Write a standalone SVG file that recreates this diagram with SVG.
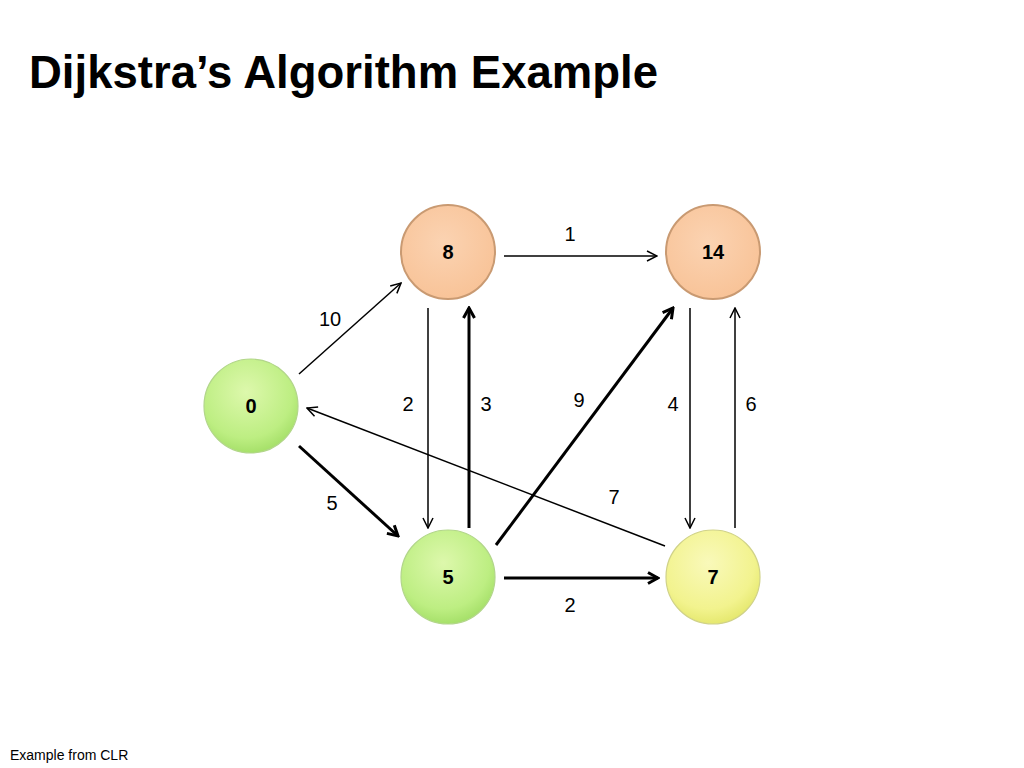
<svg xmlns="http://www.w3.org/2000/svg" width="1024" height="768" viewBox="0 0 1024 768">
<style>
text{font-family:"Liberation Sans",Arial,sans-serif;fill:#000}
.title{font-size:46px;font-weight:bold}
.foot{font-size:14px}
.nl{font-size:20px;font-weight:bold;text-anchor:middle}
.el{font-size:20px;text-anchor:middle}
.thin{stroke:#000;stroke-width:1.5;fill:none;marker-end:url(#aThin)}
.thick{stroke:#000;stroke-width:3;fill:none;marker-end:url(#aThick)}
</style>
<defs>
<radialGradient id="gOr" cx="0.45" cy="0.4" r="0.65">
<stop offset="0" stop-color="#FBD3B2"/><stop offset="1" stop-color="#F8C296"/>
</radialGradient>
<radialGradient id="gGr" cx="0.45" cy="0.35" r="0.7">
<stop offset="0" stop-color="#DDF8AC"/><stop offset="0.7" stop-color="#BDEE82"/><stop offset="1" stop-color="#9FDC62"/>
</radialGradient>
<radialGradient id="gYe" cx="0.45" cy="0.35" r="0.7">
<stop offset="0" stop-color="#F9F9BA"/><stop offset="0.7" stop-color="#F2F38E"/><stop offset="1" stop-color="#E2E566"/>
</radialGradient>
<marker id="aThin" viewBox="0 0 12 12" refX="11" refY="6" markerWidth="12" markerHeight="12" markerUnits="userSpaceOnUse" orient="auto">
<path d="M1,1 L11,6 L1,11" fill="none" stroke="#000" stroke-width="1.5"/>
</marker>
<marker id="aThick" viewBox="0 0 14 14" refX="12" refY="7" markerWidth="14" markerHeight="14" markerUnits="userSpaceOnUse" orient="auto">
<path d="M2,1.5 L12,7 L2,12.5" fill="none" stroke="#000" stroke-width="3"/>
</marker>
</defs>
<rect width="1024" height="768" fill="#fff"/>
<text class="title" x="29" y="88" textLength="629" lengthAdjust="spacingAndGlyphs">Dijkstra’s Algorithm Example</text>
<text class="foot" x="10" y="760">Example from CLR</text>

<g id="edges">
<line class="thin" x1="299" y1="374" x2="401" y2="283"/>
<line class="thin" x1="504" y1="256" x2="657" y2="256"/>
<line class="thin" x1="428" y1="308" x2="428" y2="528"/>
<line class="thick" x1="469" y1="528" x2="469" y2="308"/>
<line class="thick" x1="496" y1="545" x2="673" y2="308"/>
<line class="thin" x1="690" y1="308" x2="690" y2="528"/>
<line class="thin" x1="735" y1="528" x2="735" y2="308"/>
<line class="thin" x1="665" y1="546" x2="307" y2="408"/>
<line class="thick" x1="299" y1="446" x2="398" y2="536"/>
<line class="thick" x1="504" y1="578" x2="658" y2="578"/>
<text class="el" x="330" y="326">10</text>
<text class="el" x="570" y="241">1</text>
<text class="el" x="408" y="411">2</text>
<text class="el" x="486" y="411">3</text>
<text class="el" x="579" y="407">9</text>
<text class="el" x="673" y="411">4</text>
<text class="el" x="751" y="411">6</text>
<text class="el" x="614" y="504">7</text>
<text class="el" x="332" y="510">5</text>
<text class="el" x="570" y="612">2</text>
</g>

<g id="node-s"><circle cx="251" cy="406" r="47" fill="url(#gGr)" stroke="#B2D68A" stroke-width="1.2"/><text class="nl" x="251" y="413">0</text></g>
<g id="node-t"><circle cx="448" cy="252" r="47" fill="url(#gOr)" stroke="#C99A72" stroke-width="2"/><text class="nl" x="448" y="259">8</text></g>
<g id="node-x"><circle cx="713" cy="252" r="47" fill="url(#gOr)" stroke="#C99A72" stroke-width="2"/><text class="nl" x="713" y="259">14</text></g>
<g id="node-y"><circle cx="448" cy="577" r="47" fill="url(#gGr)" stroke="#B2D68A" stroke-width="1.2"/><text class="nl" x="448" y="584">5</text></g>
<g id="node-z"><circle cx="713" cy="577" r="47" fill="url(#gYe)" stroke="#D0D288" stroke-width="1.2"/><text class="nl" x="713" y="584">7</text></g>
</svg>
